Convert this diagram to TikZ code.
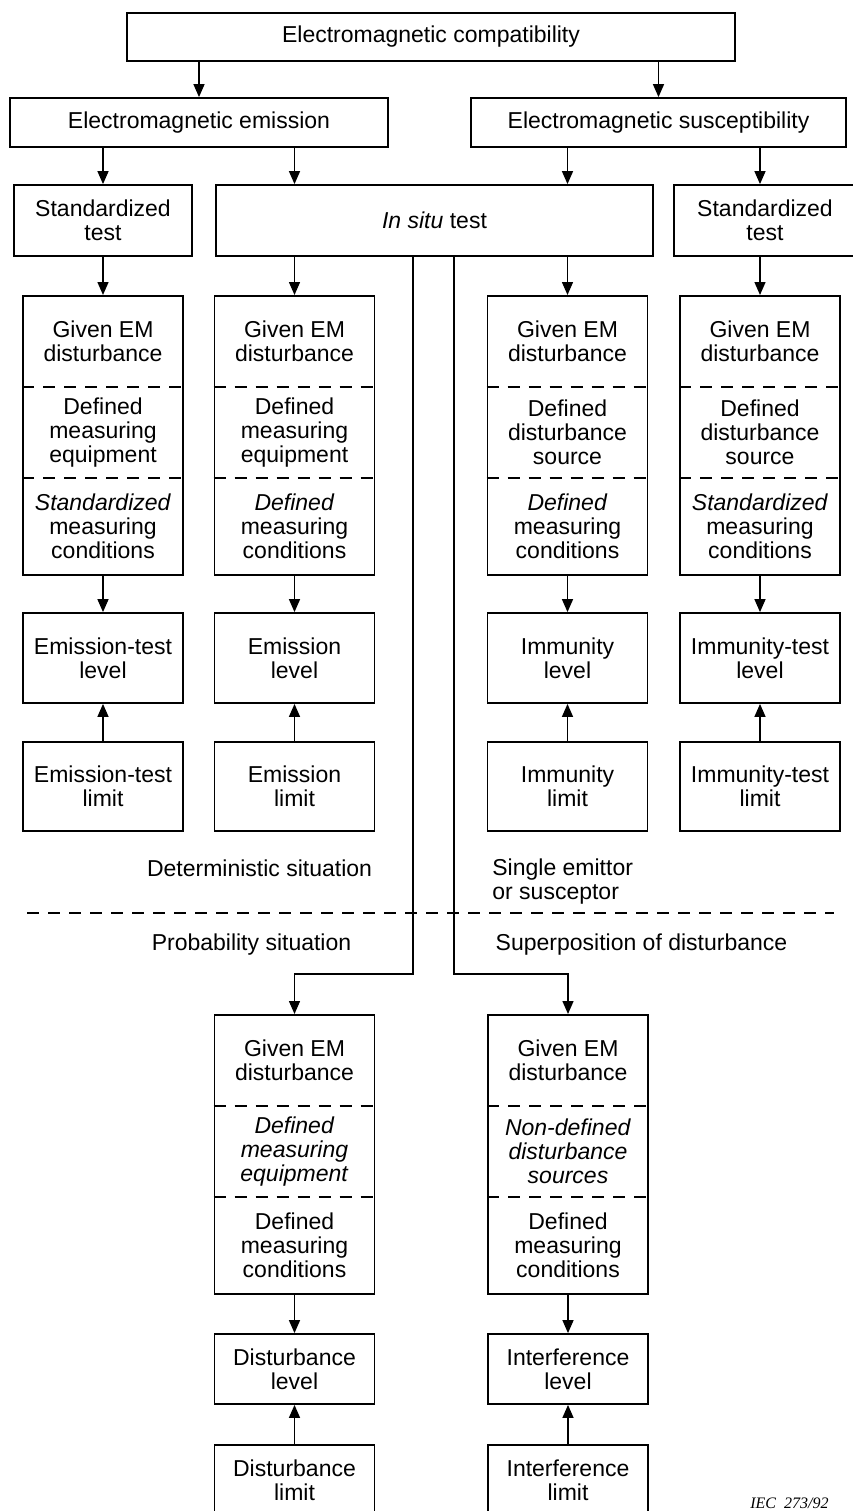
\documentclass[tikz,border=0pt]{standalone}
\usepackage{fontspec}
\setmainfont{Liberation Sans}
\newfontfamily\iecfont{Liberation Serif}
\usetikzlibrary{arrows.meta,calc}
\tikzset{>={Triangle[length=6.5pt,width=5.5pt]},every node/.style={font=\fontsize{11.5}{12}\selectfont,align=center,inner sep=0pt},
box/.style={draw,line width=.9pt,minimum width=80pt},flow/.style={line width=.7pt,->},sep/.style={line width=.7pt,dash pattern=on 6pt off 4.5pt}}
\newcommand{\tripart}[6]{\node[box,minimum height=139.5pt,anchor=north] (#1) at (#2,#3) {};
\draw[sep] ($(#1.north west)+(0,92)$)--($(#1.north east)+(0,92)$);\draw[sep] ($(#1.north west)+(0,183)$)--($(#1.north east)+(0,183)$);
\node (#1a) at ($(#1.north)+(0,46)$) {#4};\node (#1b) at ($(#1.north)+(0,137.5)$) {#5};\node (#1c) at ($(#1.north)+(0,231)$) {#6};}

\begin{document}
\begin{tikzpicture}[x=.5pt,y=-.5pt]
\useasboundingbox (0,0) rectangle (852,1511);
\node[box,minimum width=304pt,minimum height=24pt] (top) at (431,37) {Electromagnetic compatibility};
\node[box,minimum width=189pt,minimum height=24.5pt] (emis) at (199,122.5) {Electromagnetic emission};
\node[box,minimum width=187.5pt,minimum height=24.5pt] (susc) at (658.5,122.5) {Electromagnetic susceptibility};
\node[box,minimum width=89pt,minimum height=35.5pt] (std1) at (103,220.5) {Standardized\\test};
\node[box,minimum width=218.5pt,minimum height=35.5pt] (insitu) at (434.5,220.5) {\textit{In situ} test};
\node[box,minimum width=91pt,minimum height=35.5pt] (std2) at (765,220.5) {Standardized\\test};
\tripart{g1}{103}{295}{Given EM\\disturbance}{Defined\\measuring\\equipment}{\textit{Standardized}\\measuring\\conditions}
\tripart{g2}{294.5}{295}{Given EM\\disturbance}{Defined\\measuring\\equipment}{\textit{Defined}\\measuring\\conditions}
\tripart{g3}{567.5}{295}{Given EM\\disturbance}{Defined\\disturbance\\source}{\textit{Defined}\\measuring\\conditions}
\tripart{g4}{760}{295}{Given EM\\disturbance}{Defined\\disturbance\\source}{\textit{Standardized}\\measuring\\conditions}
\tripart{g5}{294.5}{1014}{Given EM\\disturbance}{\textit{Defined}\\\textit{measuring}\\\textit{equipment}}{Defined\\measuring\\conditions}
\tripart{g6}{568}{1014}{Given EM\\disturbance}{\textit{Non-defined}\\\textit{disturbance}\\\textit{sources}}{Defined\\measuring\\conditions}
\foreach \i/\x/\t in {1/103/Emission-test,2/294.5/Emission,3/567.5/Immunity,4/760/Immunity-test}{
\node[box,minimum height=45pt] (lev\i) at (\x,658) {\t\\level};\node[box,minimum height=44.5pt] (lim\i) at (\x,786.5) {\t\\limit};
\draw[flow] (g\i.south) -- (lev\i.north);\draw[flow] (lim\i.north) -- (lev\i.south);}
\foreach \i/\x/\t in {5/294.5/Disturbance,6/568/Interference}{
\node[box,minimum height=35pt] (lev\i) at (\x,1369) {\t\\level};\node[box,minimum height=35pt] (lim\i) at (\x,1480) {\t\\limit};
\draw[flow] (g\i.south) -- (lev\i.north);\draw[flow] (lim\i.north) -- (lev\i.south);}
\draw[flow] (top.south -| emis) -- (emis.north);\draw[flow] (top.south -| susc) -- (susc.north);
\draw[flow] (emis.south -| std1) -- (std1.north);\draw[flow] (emis.south -| g2) -- (insitu.north -| g2);
\draw[flow] (susc.south -| g3) -- (insitu.north -| g3);\draw[flow] (susc.south -| g4) -- (std2.north -| g4);
\draw[flow] (std1.south) -- (g1.north);\draw[flow] (insitu.south -| g2) -- (g2.north);
\draw[flow] (insitu.south -| g3) -- (g3.north);\draw[flow] (std2.south -| g4) -- (g4.north);
\coordinate (bendL) at (413,974);\coordinate (bendR) at (454,974);
\draw[flow] (insitu.south -| bendL) -- (bendL) -| (g5.north);\draw[flow] (insitu.south -| bendR) -- (bendR) -| (g6.north);
\draw[sep] (27,913) -- (834,913);
\node (det) at (259.5,868) {Deterministic situation};
\node[anchor=west,align=left] (single) at (492,881.5) {Single emittor\\or susceptor};
\node (prob) at (251.5,945) {Probability situation};
\node (super) at (641.5,945) {Superposition of disturbance};
\node[anchor=east,font=\fontsize{8}{9}\selectfont\iecfont\itshape] (iec) at (829,1503) {IEC\ \ 273/92};
\end{tikzpicture}
\end{document}
